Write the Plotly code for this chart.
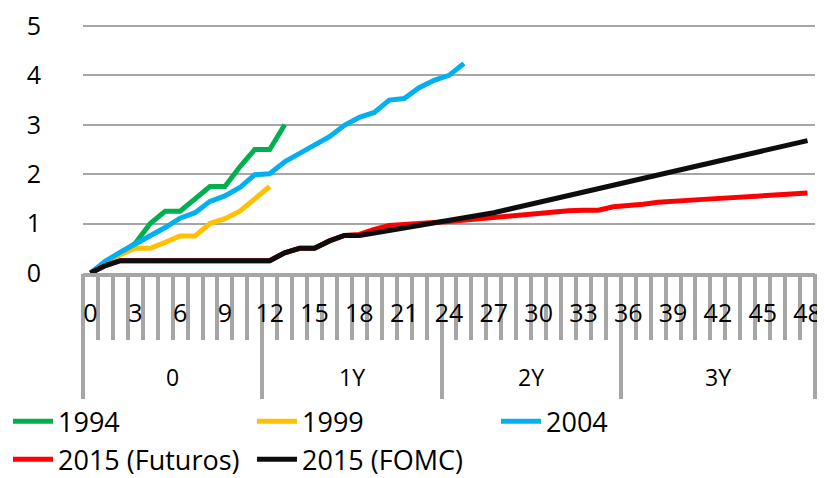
import plotly.graph_objects as go

# ---- data ----
months = list(range(49))
tick_months = list(range(0, 49, 3))
tick_labels = [str(m) for m in tick_months]
group_labels = ["0", "1Y", "2Y", "3Y"]
group_bounds = [-0.5, 11.5, 23.5, 35.5, 48.5]

s1994 = [0, 0.20, 0.40, 0.60, 1.00, 1.25, 1.25, 1.50, 1.75, 1.75, 2.15, 2.50, 2.50, 3.00]
s1999 = [0, 0.20, 0.37, 0.50, 0.50, 0.62, 0.75, 0.75, 1.00, 1.10, 1.25, 1.50, 1.75]
s2004 = [0, 0.24, 0.42, 0.58, 0.75, 0.92, 1.11, 1.22, 1.45, 1.56, 1.73, 1.99, 2.01,
         2.25, 2.42, 2.59, 2.76, 2.99, 3.15, 3.25, 3.50, 3.53, 3.75, 3.90, 4.00, 4.24]
s2015_fut = [0, 0.15, 0.25, 0.25, 0.25, 0.25, 0.25, 0.25, 0.25, 0.25, 0.25, 0.25, 0.25,
             0.41, 0.50, 0.50, 0.65, 0.76, 0.78, 0.88, 0.96, 0.98, 1.01, 1.02, 1.04,
             1.07, 1.10, 1.12, 1.14, 1.17, 1.20, 1.23, 1.26, 1.27, 1.27, 1.34, 1.36,
             1.39, 1.43, 1.44, 1.47, 1.49, 1.51, 1.53, 1.55, 1.56, 1.60, 1.62, 1.62]
s2015_fomc = [0, 0.15, 0.25, 0.25, 0.25, 0.25, 0.25, 0.25, 0.25, 0.25, 0.25, 0.25, 0.25,
              0.41, 0.50, 0.50, 0.65, 0.76, 0.76, 0.81, 0.86, 0.90, 0.95, 1.00, 1.05,
              1.10, 1.16, 1.22, 1.29, 1.36, 1.43, 1.50, 1.57, 1.64, 1.71, 1.78, 1.85,
              1.92, 1.99, 2.06, 2.13, 2.20, 2.27, 2.34, 2.41, 2.48, 2.54, 2.61, 2.68]

series = [
    ("1994", s1994, "#00B050"),
    ("1999", s1999, "#FFC000"),
    ("2004", s2004, "#00B0F0"),
    ("2015 (Futuros)", s2015_fut, "#FF0000"),
    ("2015 (FOMC)", s2015_fomc, "#0D0D0D"),
]

FONT = "Open Sans"
GRAY = "#A6A6A6"

fig = go.Figure()
for name, vals, color in series:
    fig.add_trace(go.Scatter(
        x=months[:len(vals)], y=vals, name=name, mode="lines",
        line=dict(color=color, width=5, shape="linear"),
    ))

cat_edges = [m - 0.5 for m in months] + [months[-1] + 0.5]
xr = [group_bounds[0], group_bounds[-1]]

# the page body adds an 8px margin, so the figure is 8px smaller each way
fig.update_layout(
    width=817, height=470,
    margin=dict(l=75, r=10, t=15, b=205, autoexpand=False),
    paper_bgcolor="white", plot_bgcolor="white",
    font=dict(family=FONT, color="black"),
    showlegend=True,
    legend=dict(
        orientation="h", xref="container", yref="container",
        x=-0.012, y=0.172, xanchor="left", yanchor="top",
        font=dict(size=27, family=FONT, color="black"),
        entrywidth=189, entrywidthmode="pixels",
        itemwidth=40, tracegroupgap=0, traceorder="normal",
        bgcolor="rgba(0,0,0,0)",
    ),
    xaxis=dict(
        range=xr, showgrid=False, zeroline=False, automargin=False,
        showline=True, linecolor=GRAY, linewidth=4,
        tickmode="array", tickvals=cat_edges, ticks="outside",
        ticklen=63, tickwidth=4, tickcolor=GRAY,
        showticklabels=False,
    ),
    xaxis2=dict(
        overlaying="x", matches="x", anchor="y", side="bottom", range=xr,
        showgrid=False, zeroline=False, showline=False, automargin=False,
        tickmode="array", tickvals=group_bounds, ticks="outside",
        ticklen=125, tickwidth=4, tickcolor=GRAY, showticklabels=False,
    ),
    xaxis3=dict(
        overlaying="x", matches="x", anchor="y", side="bottom", range=xr,
        showgrid=False, zeroline=False, showline=False, automargin=False,
        tickmode="array", tickvals=tick_months, ticktext=tick_labels,
        ticks="", ticklabelstandoff=23, ticklabeloverflow="allow",
        tickfont=dict(size=25, family=FONT, color="black"),
    ),
    yaxis=dict(
        range=[0, 5.06], tickmode="array", tickvals=[0, 1, 2, 3, 4, 5],
        showgrid=True, gridcolor=GRAY, gridwidth=1.5,
        zeroline=False, showline=False, ticks="", automargin=False,
        tickfont=dict(size=25, family=FONT, color="black"),
        ticklabelstandoff=41, ticklabeloverflow="allow",
    ),
)

# invisible helper traces so the overlay axes are drawn
fig.add_trace(go.Scatter(x=[0], y=[0], xaxis="x2", mode="markers",
                         marker=dict(opacity=0), showlegend=False, hoverinfo="skip"))
fig.add_trace(go.Scatter(x=[0], y=[0], xaxis="x3", mode="markers",
                         marker=dict(opacity=0), showlegend=False, hoverinfo="skip"))

# group labels centred in each group
for i, lab in enumerate(group_labels):
    c = (group_bounds[i] + group_bounds[i + 1]) / 2
    fig.add_annotation(x=c, xref="x", y=-0.416, yref="paper", text=lab,
                       showarrow=False, yanchor="middle",
                       font=dict(size=23, family=FONT, color="black"))

fig.write_html("out.html")
